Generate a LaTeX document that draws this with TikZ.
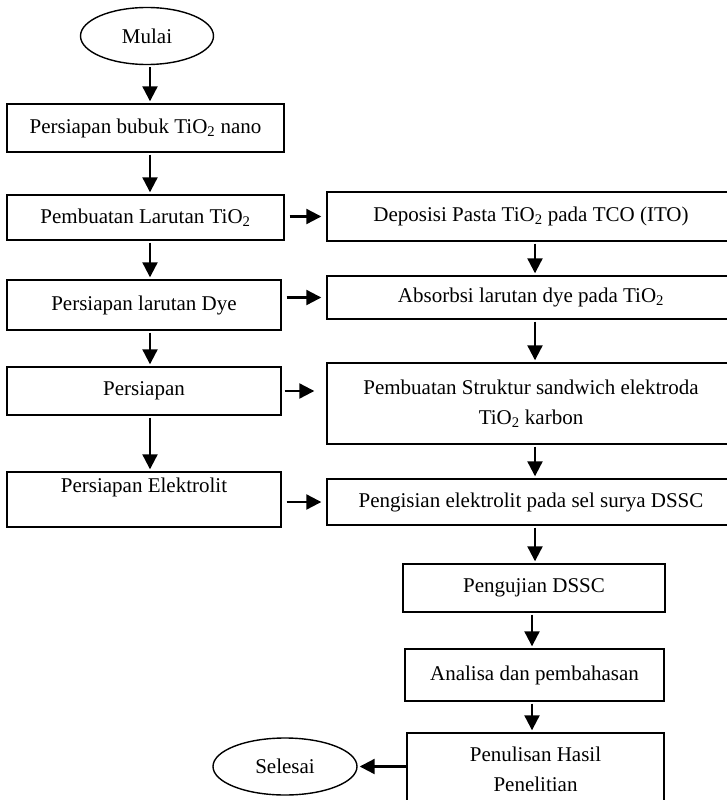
\documentclass[tikz,border=0pt]{standalone}
\usepackage{fontspec}
\setmainfont{Liberation Serif}
\usetikzlibrary{shapes.geometric,arrows.meta}
\begin{document}
\begin{tikzpicture}[x=1pt,y=-1pt,
  every node/.style={font=\fontsize{21}{30}\selectfont, inner sep=0pt, align=center},
  box/.style={draw, line width=1.4pt, rectangle},
  oval/.style={draw, line width=1.4pt, ellipse},
  arr/.style={line width=2.2pt, -{Triangle[length=15pt,width=15pt]}, shorten >=2pt, shorten <=2pt}]
\useasboundingbox (0,0) rectangle (727,800);
\node[oval, minimum width=133, minimum height=57] (mulai) at (147,36) {Mulai};
\node[box, minimum width=277, minimum height=48] (b1) at (145.5,128) {Persiapan bubuk TiO\textsubscript{2} nano};
\node[box, minimum width=277, minimum height=45] (b2) at (145.5,217.5) {Pembuatan Larutan TiO\textsubscript{2}};
\node[box, minimum width=274, minimum height=50] (b3) at (144,305) {Persiapan larutan Dye};
\node[box, minimum width=274, minimum height=48] (b4) at (144,391) {Persiapan};
\node[box, minimum width=274, minimum height=55] (b5) at (144,499.5) {\raisebox{12pt}[\height][\depth]{Persiapan Elektrolit}};
\node[box, minimum width=408, minimum height=49] (r1) at (531,216.5) {Deposisi Pasta TiO\textsubscript{2} pada TCO (ITO)};
\node[box, minimum width=408, minimum height=43] (r2) at (531,297.5) {Absorbsi larutan dye pada TiO\textsubscript{2}};
\node[box, minimum width=408, minimum height=81] (r3) at (531,403.5) {Pembuatan Struktur sandwich elektroda\\TiO\textsubscript{2} karbon};
\node[box, minimum width=408, minimum height=46] (r4) at (531,502) {Pengisian elektrolit pada sel surya DSSC};
\node[box, minimum width=262, minimum height=48] (p1) at (534,588) {Pengujian DSSC};
\node[box, minimum width=259, minimum height=52] (p2) at (534.5,675) {Analisa dan pembahasan};
\node[box, minimum width=257, minimum height=72] (p3) at (535.5,769) {Penulisan Hasil\\Penelitian};
\node[oval, minimum width=144, minimum height=57] (selesai) at (285,766.5) {Selesai};
\coordinate (ax) at (535,0);
\coordinate (ay) at (532,0);
\coordinate (lx) at (150,0);
\draw[arr] (mulai.south -| lx) -- (b1.north -| lx);
\draw[arr] (b1.south -| lx) -- (b2.north -| lx);
\draw[arr] (b2.south -| lx) -- (b3.north -| lx);
\draw[arr] (b3.south -| lx) -- (b4.north -| lx);
\draw[arr] (b4.south -| lx) -- (b5.north -| lx);
\draw[arr] ([xshift=3pt]b2.east |- r1.west) -- ([xshift=-3pt]r1.west);
\draw[arr] ([xshift=3pt]b3.east |- r2.west) -- ([xshift=-3pt]r2.west);
\draw[arr] ([xshift=1pt]b4.east) -- ([xshift=-10pt]r3.west |- b4.east);
\draw[arr] ([xshift=3pt]b5.east |- r4.west) -- ([xshift=-3pt]r4.west);
\draw[arr] (r1.south -| ax) -- (r2.north -| ax);
\draw[arr] (r2.south -| ax) -- (r3.north -| ax);
\draw[arr] (r3.south -| ax) -- (r4.north -| ax);
\draw[arr] (r4.south -| ax) -- (p1.north -| ax);
\draw[arr] (p1.south -| ay) -- (p2.north -| ay);
\draw[arr] (p2.south -| ay) -- (p3.north -| ay);
\draw[arr, shorten <=0pt] (p3.west |- selesai.east) -- (selesai.east);
\end{tikzpicture}
\end{document}
